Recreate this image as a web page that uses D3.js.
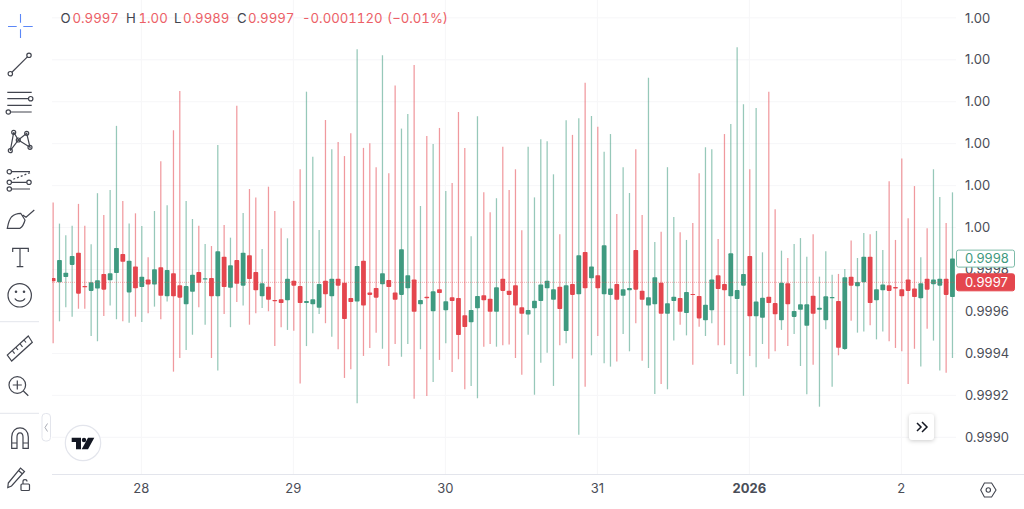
<!DOCTYPE html>
<html>
<head>
<meta charset="utf-8">
<script src="https://cdn.jsdelivr.net/npm/d3@7/dist/d3.min.js"></script>
<style>
  html, body { margin: 0; padding: 0; background: #fff; }
  svg { display: block; font-family: Inter, "Noto Sans", sans-serif; }
  .icon * { fill: none; stroke: #42454f; stroke-width: 1.2; }
</style>
</head>
<body>
<svg id="chart" width="1024" height="509"></svg>
<script>
// Hourly candles, first bar at 27 Dec 10:00 UTC
const highs = [
  1.000119,1.000019,0.999963,1.000009,1.000113,1.000009,0.999920,1.000164,1.000060,1.000179,
  1.000485,1.000127,1.000019,1.000068,1.000008,0.999858,1.000079,1.000316,1.000106,1.000464,
  1.000651,1.000127,1.000041,1.000009,0.999922,0.999912,1.000394,1.000012,0.999952,1.000581,
  1.000070,1.000184,1.000144,0.999898,1.000195,1.000079,0.999997,0.999949,1.000127,1.000278,
  1.000648,1.000338,0.999989,1.000513,1.000373,1.000408,1.000341,1.000450,1.000850,1.000380,
  1.000402,1.000288,1.000822,1.000259,1.000677,1.000472,1.000542,1.000775,1.000103,1.000437,
  1.000399,1.000475,1.000175,1.000213,1.000551,1.000380,0.999959,1.000531,1.000168,1.000073,
  1.000140,1.000386,1.000179,1.000278,0.999987,1.000386,1.000144,1.000421,1.000412,1.000254,
  0.999968,1.000512,1.000442,1.000521,1.000690,1.000532,1.000481,1.000361,1.000446,1.000065,
  1.000288,1.000165,1.000373,1.000060,1.000715,0.999931,0.999980,1.000288,1.000051,0.999978,
  0.999941,1.000022,1.000259,1.000383,1.000373,0.999946,1.000446,1.000494,1.000860,1.000588,
  1.000278,1.000570,0.999882,1.000648,1.000087,0.999890,0.999855,0.999922,0.999950,0.999861,
  0.999968,0.999766,0.999887,0.999775,0.999779,0.999803,0.999938,0.999855,0.999974,0.999968,
  0.999984,0.999893,1.000221,0.999941,1.000329,1.000044,1.000198,0.999858,0.999997,1.000278,
  1.000146,1.000022,1.000168
];
const lows = [
  0.999448,0.999553,0.999620,0.999575,0.999613,0.999613,0.999483,0.999458,0.999578,0.999629,
  0.999563,0.999553,0.999546,0.999575,0.999550,0.999591,0.999623,0.999563,0.999647,0.999313,
  0.999378,0.999416,0.999489,0.999620,0.999537,0.999378,0.999318,0.999588,0.999525,0.999645,
  0.999629,0.999537,0.999591,0.999617,0.999601,0.999435,0.999525,0.999512,0.999508,0.999257,
  0.999435,0.999496,0.999588,0.999544,0.999480,0.999420,0.999283,0.999324,0.999162,0.999388,
  0.999426,0.999499,0.999422,0.999340,0.999445,0.999384,0.999445,0.999184,0.999420,0.999197,
  0.999264,0.999369,0.999448,0.999311,0.999372,0.999229,0.999245,0.999186,0.999432,0.999445,
  0.999432,0.999439,0.999442,0.999378,0.999298,0.999489,0.999203,0.999356,0.999403,0.999245,
  0.999439,0.999448,0.999375,0.999012,0.999241,0.999391,0.999483,0.999353,0.999337,0.999362,
  0.999493,0.999410,0.999544,0.999365,0.999330,0.999206,0.999254,0.999229,0.999461,0.999537,
  0.999486,0.999346,0.999527,0.999483,0.999544,0.999439,0.999439,0.999350,0.999302,0.999198,
  0.999388,0.999334,0.999445,0.999375,0.999410,0.999512,0.999435,0.999493,0.999340,0.999205,
  0.999346,0.999146,0.999515,0.999241,0.999391,0.999416,0.999556,0.999499,0.999505,0.999534,
  0.999467,0.999505,0.999458,0.999426,0.999410,0.999254,0.999422,0.999337,0.999518,0.999461,
  0.999318,0.999308,0.999378
];
const opens = [
  0.999760,0.999739,0.999764,0.999822,0.999880,0.999721,0.999698,0.999709,0.999779,0.999749,
  0.999783,0.999874,0.999691,0.999814,0.999717,0.999753,0.999728,0.999811,0.999672,0.999782,
  0.999725,0.999634,0.999694,0.999788,0.999752,0.999760,0.999672,0.999861,0.999713,0.999845,
  0.999723,0.999868,0.999788,0.999672,0.999718,0.999655,0.999658,0.999653,0.999747,0.999721,
  0.999640,0.999634,0.999618,0.999747,0.999672,0.999756,0.999737,0.999664,0.999647,0.999842,
  0.999690,0.999712,0.999730,0.999750,0.999690,0.999679,0.999711,0.999753,0.999634,0.999670,
  0.999601,0.999706,0.999606,0.999668,0.999664,0.999582,0.999548,0.999615,0.999677,0.999661,
  0.999599,0.999756,0.999699,0.999725,0.999620,0.999585,0.999615,0.999650,0.999711,0.999656,
  0.999718,0.999507,0.999731,0.999682,0.999884,0.999758,0.999773,0.999682,0.999679,0.999731,
  0.999675,0.999701,0.999893,0.999699,0.999628,0.999634,0.999737,0.999589,0.999650,0.999664,
  0.999593,0.999683,0.999674,0.999558,0.999606,0.999773,0.999731,0.999672,0.999659,0.999723,
  0.999865,0.999577,0.999570,0.999670,0.999640,0.999558,0.999734,0.999574,0.999608,0.999532,
  0.999675,0.999608,0.999558,0.999663,0.999650,0.999421,0.999766,0.999720,0.999739,0.999861,
  0.999653,0.999701,0.999725,0.999717,0.999706,0.999753,0.999709,0.999663,0.999756,0.999730,
  0.999723,0.999756,0.999669
];
const closes = [
  0.999744,0.999845,0.999785,0.999865,0.999685,0.999715,0.999739,0.999749,0.999704,0.999782,
  0.999903,0.999837,0.999842,0.999711,0.999766,0.999728,0.999801,0.999675,0.999798,0.999672,
  0.999666,0.999721,0.999775,0.999737,0.999758,0.999672,0.999887,0.999717,0.999820,0.999732,
  0.999880,0.999755,0.999701,0.999734,0.999656,0.999649,0.999640,0.999756,0.999723,0.999640,
  0.999650,0.999658,0.999731,0.999682,0.999756,0.999723,0.999564,0.999645,0.999817,0.999628,
  0.999679,0.999666,0.999782,0.999717,0.999656,0.999897,0.999773,0.999599,0.999655,0.999663,
  0.999696,0.999688,0.999649,0.999650,0.999488,0.999526,0.999607,0.999674,0.999653,0.999599,
  0.999715,0.999698,0.999679,0.999628,0.999589,0.999607,0.999651,0.999728,0.999747,0.999706,
  0.999612,0.999725,0.999679,0.999868,0.999711,0.999814,0.999711,0.999916,0.999709,0.999656,
  0.999706,0.999712,0.999704,0.999656,0.999668,0.999763,0.999589,0.999639,0.999670,0.999599,
  0.999693,0.999679,0.999567,0.999632,0.999753,0.999707,0.999701,0.999877,0.999702,0.999779,
  0.999577,0.999647,0.999666,0.999640,0.999587,0.999737,0.999634,0.999602,0.999634,0.999634,
  0.999589,0.999618,0.999672,0.999669,0.999427,0.999763,0.999723,0.999741,0.999861,0.999640,
  0.999706,0.999728,0.999698,0.999709,0.999672,0.999698,0.999669,0.999734,0.999704,0.999753,
  0.999756,0.999679,0.999852
];

const priceTicks = [0.9990,0.9992,0.9994,0.9996,0.9998,1.0000,1.0002,1.0004,1.0006,1.0008,1.0010];
const priceLabels = ["0.9990","0.9992","0.9994","0.9996","0.9998","1.00","1.00","1.00","1.00","1.00","1.00"];
const dayTicks = ["2025-12-28","2025-12-29","2025-12-30","2025-12-31","2026-01-01","2026-01-02"];
const dayLabels = ["28","29","30","31","2026","2"];
const lastPrice = 0.999739;
const lastPriceLabel = "0.9997";
const lastCloseLabel = "0.9998";
const legendLetters = ["O","H","L","C"];
const legendValues = ["0.9997","1.00","0.9989","0.9997"];
const legendChange = ["-0.0001120","(−0.01%)"];

const GREEN = "#3f9a80", RED = "#e4464e", PALE_GRID = "#f6f6f8", INK = "#4a4d57";
const svg = d3.select("#chart");
const firstBar = new Date(Date.UTC(2025, 11, 27, 10));

const x = d3.scaleUtc()
  .domain([new Date(Date.UTC(2025, 11, 28)), new Date(Date.UTC(2026, 0, 2))])
  .range([141.8, 901.8]);
const y = d3.scaleLinear().domain([0.9990, 1.0008]).range([437.3, 59.8]);
const dayDates = dayTicks.map(d => new Date(d + "T00:00:00Z"));

// Grid
const grid = svg.append("g");
grid.selectAll("line.h").data(priceTicks).join("line")
  .attr("x1", 52).attr("x2", 956)
  .attr("y1", d => y(d)).attr("y2", d => y(d))
  .attr("stroke", PALE_GRID);
grid.selectAll("line.v").data(dayDates).join("line")
  .attr("class", "v")
  .attr("x1", d => x(d) - 0.4).attr("x2", d => x(d) - 0.4)
  .attr("y1", 0).attr("y2", 474)
  .attr("stroke", PALE_GRID);

// Candles
svg.append("defs").append("clipPath").attr("id", "plot")
  .append("rect").attr("x", 52).attr("y", 0).attr("width", 904).attr("height", 474);
const bars = highs.map((h, i) => ({
  t: d3.utcHour.offset(firstBar, i), h, l: lows[i], o: opens[i], c: closes[i]
}));
const plot = svg.append("g").attr("clip-path", "url(#plot)");
const colour = d => d.c >= d.o ? GREEN : RED;
plot.selectAll("line.wick").data(bars).join("line")
  .attr("class", "wick")
  .attr("x1", d => x(d.t)).attr("x2", d => x(d.t))
  .attr("y1", d => y(d.h)).attr("y2", d => y(d.l))
  .attr("stroke", colour).attr("stroke-opacity", 0.55).attr("stroke-width", 1.25);
plot.selectAll("rect.body").data(bars).join("rect")
  .attr("class", "body")
  .attr("x", d => x(d.t) - 2.4).attr("width", 4.8)
  .attr("y", d => y(Math.max(d.o, d.c)))
  .attr("height", d => Math.max(1, Math.abs(y(d.o) - y(d.c))))
  .attr("rx", 0.8)
  .attr("fill", colour);

// Dotted last-price line
svg.append("line")
  .attr("x1", 52).attr("x2", 956)
  .attr("y1", y(lastPrice)).attr("y2", y(lastPrice))
  .attr("stroke", RED).attr("stroke-opacity", 0.45)
  .attr("stroke-dasharray", "1 1");

// Price axis
const yAxis = svg.append("g").attr("transform", "translate(956,0)")
  .call(d3.axisRight(y).tickValues(priceTicks)
    .tickFormat((d, i) => priceLabels[i]).tickSize(0).tickPadding(9));
yAxis.select(".domain").remove();
yAxis.selectAll("text").attr("fill", INK)
  .style("font-family", "Inter").style("font-size", "13px");

// Time axis
svg.append("line").attr("x1", 52).attr("x2", 1024).attr("y1", 474.5).attr("y2", 474.5).attr("stroke", "#e3e5ec");
const xAxis = svg.append("g").attr("transform", "translate(-1,474)")
  .call(d3.axisBottom(x).tickValues(dayDates)
    .tickFormat((d, i) => dayLabels[i]).tickSize(0).tickPadding(10));
xAxis.select(".domain").remove();
xAxis.selectAll("text").attr("fill", INK)
  .style("font-family", "Inter").style("font-size", "13px")
  .style("font-weight", (d, i) => dayLabels[i].length === 4 ? 700 : 400);

// Price tags on the axis
function tag(price, label, fill, stroke, textFill) {
  const g = svg.append("g").attr("transform", `translate(956,${y(price)})`);
  g.append("rect").attr("x", 0.5).attr("y", -8.5).attr("width", 58).attr("height", 17).attr("rx", 2)
    .attr("fill", fill).attr("stroke", stroke);
  g.append("text").attr("x", 9).attr("y", 0).attr("dy", "0.36em")
    .attr("fill", textFill).style("font-size", "13px").text(label);
}
tag(closes[closes.length - 1], lastCloseLabel, "#fff", "#7dbba8", GREEN);
tag(lastPrice, lastPriceLabel, RED, RED, "#fff");

// Legend row
const legend = svg.append("g")
  .style("font-size", "13.2px").style("font-variant-numeric", "tabular-nums")
  .attr("transform", "translate(0,22.7)");
const VALUE_RED = "#ec5f67";
const letterX = [60.5, 126, 174, 237];
const valueX = [72.5, 138.5, 183, 248];
legendLetters.forEach((s, i) => {
  legend.append("text").attr("x", letterX[i]).attr("fill", "#42454f").text(s);
  legend.append("text").attr("x", valueX[i]).attr("fill", VALUE_RED).text(legendValues[i]);
});
legend.append("text").attr("x", 302).attr("fill", VALUE_RED).text(legendChange[0]);
legend.append("text").attr("x", 387).attr("fill", VALUE_RED).text(legendChange[1]);

// Drawing toolbar
svg.append("path")
  .attr("d", "M20.5 14V22.7M20.5 29.3V38M8 26.5H16.7M23.3 26.5H32.7")
  .attr("fill", "none").attr("stroke", "#5b87f7").attr("stroke-width", 1.1);
const tools = svg.append("g").attr("class", "icon");
const ring = (cx, cy, r = 2.2) => tools.append("circle").attr("cx", cx).attr("cy", cy).attr("r", r);
const stroke = d => tools.append("path").attr("d", d);

stroke("M11.9 72.2L27.4 56.9"); ring(29, 55.3); ring(10.3, 73.7);
stroke("M7.3 92.3H31.7M7.3 98.7H28.5M7.3 105.3H31.7M10.5 112H31.7"); ring(30.7, 98.7); ring(8.3, 112);
stroke("M13.7 132.3L10.3 150.7L18.3 140L13.7 132.3M18.3 140L26.7 133.3L30 147.3L18.3 140");
ring(13.7, 132.3, 2); ring(26.7, 133.3, 2); ring(18.3, 140, 2); ring(10.3, 150.7, 2); ring(30, 147.3, 2);
stroke("M11.5 171.7H30M11.5 182.3H26.8M11.5 189H30"); ring(9.3, 171.7); ring(9.3, 182.3); ring(29, 182.3); ring(9.3, 189);
stroke("M13.3 179.3L30 172.7").attr("stroke-dasharray", "2 2");
stroke("M7.3 228.3C8.5 222 10 218.5 11.7 216.7C14 214.5 18 213.3 20.7 213.3L25 220C24 224 22 227 20 228.3ZM22.7 215L26 217.3L34.3 210");
stroke("M12.7 252V248.3H28.3V252M20 248.3V266.7M16.7 266.7H23.3");
ring(19.7, 295.3, 11.7);
tools.append("circle").attr("cx", 16).attr("cy", 291.7).attr("r", 0.7);
tools.append("circle").attr("cx", 24).attr("cy", 291.7).attr("r", 0.7);
stroke("M14.8 298.5C17 302 23 302 25 298.5");
stroke("M28.3 336L32.3 342.3L11.7 361L7.3 355ZM24 340L26 342.5M20 343.7L22.5 347M16 347.4L18 350M12.6 351L14.6 353.6");
ring(17.3, 385, 8.3);
stroke("M17.3 380.5V389.5M12.8 385H21.8M23.4 391L28.3 395.7");
stroke("M11.7 448.3V437C11.7 424.8 28.3 424.8 28.3 437V448.3H23V437C23 431.5 17 431.5 17 437V448.3ZM11.7 443H17M23 443H28.3");
stroke("M8.3 483L20.5 468L24.5 471.5L11.5 486L7.8 487.5ZM18.5 470.5L22.5 474");
tools.append("rect").attr("x", 21).attr("y", 484).attr("width", 8.5).attr("height", 6.5).attr("rx", 1);
stroke("M23 484V481.5C23 479 27 479 27 481.5");
svg.append("g").selectAll("line").data([321.7, 413.3]).join("line")
  .attr("x1", 0).attr("x2", 39).attr("y1", d => d).attr("y2", d => d)
  .attr("stroke", "#e3e5ec");

// Toolbar collapse handle
svg.append("rect").attr("x", 42).attr("y", 413.5).attr("width", 8.5).attr("height", 27.5).attr("rx", 3.5)
  .attr("fill", "#fff").attr("stroke", "#e3e5ec");
svg.append("path").attr("d", "M47.5 423.5L45 427.5L47.5 431.5").attr("fill", "none").attr("stroke", "#a9acb5");

// Logo badge
svg.append("circle").attr("cx", 83).attr("cy", 443).attr("r", 17.7)
  .attr("fill", "#fff").attr("stroke", "#e3e5ec").attr("stroke-width", 1.2);
svg.append("path").attr("fill", "#131722")
  .attr("d", "M71.7 437.7H81V449.3H76V442H71.7ZM88 437.7H94.3L88 449.3H81.7Z");
svg.append("circle").attr("cx", 84).attr("cy", 440).attr("r", 2.2).attr("fill", "#131722");

// Scroll-to-latest button
svg.append("rect").attr("x", 909).attr("y", 414).attr("width", 25).attr("height", 26).attr("rx", 3)
  .attr("fill", "#fff").style("filter", "drop-shadow(0 1px 2px rgba(0,0,0,.2))");
svg.append("path").attr("d", "M917 423L921 427L917 431M922 422L927 427L922 432")
  .attr("fill", "none").attr("stroke", "#131722").attr("stroke-width", 1.5);

// Settings glyph
svg.append("path").attr("d", "M984.4 483H991.6L996 490L991.6 497H984.4L980.7 490Z")
  .attr("fill", "none").attr("stroke", "#42454f").attr("stroke-width", 1.1);
svg.append("circle").attr("cx", 988.3).attr("cy", 490).attr("r", 2.2)
  .attr("fill", "none").attr("stroke", "#42454f").attr("stroke-width", 1.1);
</script>
</body>
</html>
